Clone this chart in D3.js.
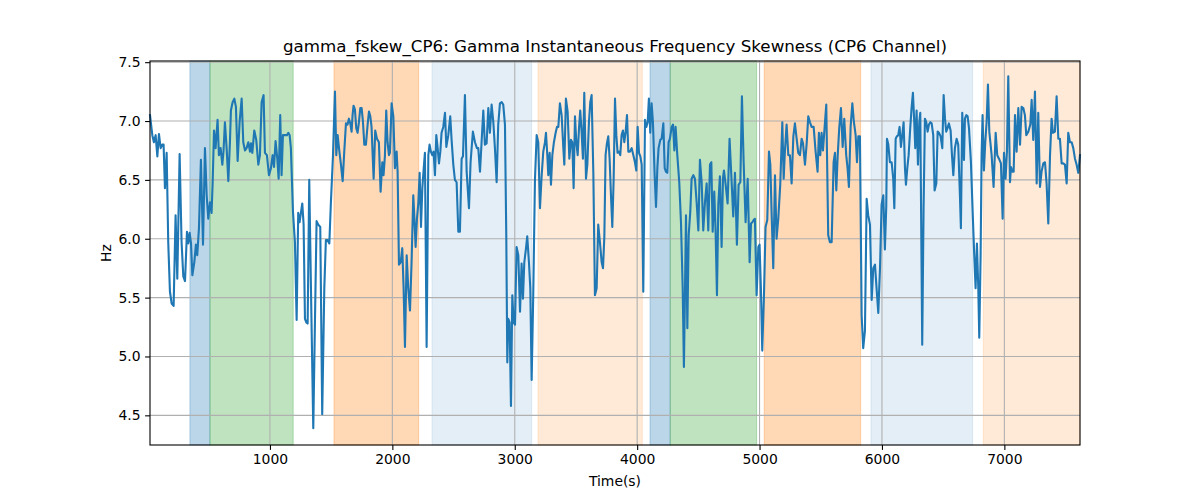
<!DOCTYPE html>
<html>
<head>
<meta charset="utf-8">
<script src="https://cdn.jsdelivr.net/npm/d3@7.9.0/dist/d3.min.js"></script>
<style>
  body { margin: 0; background: #fff; }
  svg { font-family: "DejaVu Sans", sans-serif; }
</style>
</head>
<body>
<svg id="chart" width="1200" height="500"></svg>
<script>
// gamma_fskew_CP6 samples: [time (s), skewness (Hz)]
const fskew = [
  [20,7.05],[39,6.88],[52,6.82],[66,6.88],[80,6.70],[93,6.89],[107,6.77],[120,6.80],[131,6.80],[142,6.43],
  [156,6.73],[169,5.97],[183,5.55],[197,5.45],[213,5.43],[229,6.20],[243,5.66],[262,6.72],[278,5.97],[292,5.68],
  [306,5.64],[322,6.06],[333,5.96],[344,6.05],[355,5.96],[366,5.69],[382,5.80],[395,5.95],[406,5.86],[420,6.09],
  [436,6.67],[453,5.95],[469,6.77],[483,6.37],[496,6.17],[510,6.31],[523,6.22],[532,6.48],[543,6.92],[556,6.77],
  [572,7.01],[583,6.71],[597,6.77],[611,6.63],[621,6.75],[632,6.99],[646,6.77],[660,6.49],[673,6.82],[681,7.09],
  [695,7.16],[709,7.19],[722,7.12],[736,6.66],[752,6.99],[769,7.19],[782,6.82],[796,6.75],[809,6.77],[823,6.82],
  [837,6.74],[845,6.81],[856,6.73],[872,6.92],[888,6.84],[905,6.63],[918,6.71],[932,7.16],[948,7.22],[959,6.73],
  [975,6.71],[992,6.54],
  [1008,6.60],[1022,6.71],[1033,6.61],[1046,6.83],[1060,6.68],[1071,6.51],[1084,7.05],[1095,6.54],[1106,6.88],[1122,6.88],
  [1139,6.88],[1150,6.90],[1161,6.88],[1171,6.77],[1188,6.23],[1204,5.97],[1218,5.31],[1231,6.22],[1242,6.14],[1253,6.22],
  [1264,6.30],[1275,6.12],[1286,5.32],[1297,5.29],[1308,5.28],[1321,6.50],[1335,5.58],[1354,4.39],[1368,5.32],[1381,6.15],
  [1395,6.12],[1411,6.10],[1427,4.51],[1444,5.58],[1457,5.99],[1471,5.99],[1485,5.96],[1498,6.31],[1515,6.71],[1531,7.25],
  [1542,6.71],[1553,6.88],[1564,6.77],[1580,6.63],[1594,6.49],[1607,6.74],[1621,6.98],[1634,6.97],[1645,7.02],[1656,6.98],
  [1667,6.91],[1675,7.05],[1683,7.13],[1694,7.10],[1705,6.94],[1716,6.90],[1727,6.99],[1738,7.11],[1749,7.11],[1760,6.99],
  [1771,6.80],[1784,6.80],[1798,6.97],[1809,7.08],[1820,7.04],[1830,6.95],[1847,6.51],[1860,6.92],[1874,6.85],[1890,6.82],
  [1904,6.40],[1918,6.65],[1928,6.54],[1939,6.70],[1950,7.09],[1961,6.82],[1972,6.71],
  [1980,6.73],[1994,7.15],[2008,7.04],[2021,6.60],[2035,6.74],[2043,6.57],[2054,5.78],[2068,5.80],[2081,5.92],[2092,5.58],
  [2103,5.08],[2117,5.86],[2130,5.58],[2144,5.39],[2157,5.80],[2171,6.37],[2179,6.20],[2190,5.93],[2201,6.17],[2212,6.30],
  [2223,6.56],[2234,6.10],[2245,6.43],[2255,6.58],[2266,6.73],[2280,5.08],[2294,6.71],[2304,6.80],[2315,6.74],[2326,6.71],
  [2337,6.74],[2348,6.54],[2359,6.88],[2370,6.77],[2381,6.64],[2392,6.74],[2402,6.90],[2416,6.95],[2430,7.07],[2441,6.78],
  [2457,6.88],[2473,7.04],[2484,6.84],[2498,6.63],[2511,6.50],[2525,6.48],[2539,6.06],[2552,6.06],[2566,6.68],[2577,6.70],
  [2593,7.22],[2607,6.57],[2626,6.26],[2639,6.65],[2658,6.91],[2675,6.82],[2691,6.77],[2702,6.77],[2716,6.57],[2729,6.82],
  [2743,7.09],[2756,6.80],[2770,6.81],[2784,7.11],[2797,6.90],[2811,7.14],[2825,6.99],[2838,6.77],[2852,6.48],[2865,6.97],
  [2879,7.15],[2893,7.16],[2906,7.14],[2920,6.97],
  [2931,6.00],[2939,4.95],[2947,5.32],[2958,5.29],[2969,4.58],[2980,5.52],[2991,5.29],[3002,5.27],[3015,5.93],[3029,5.86],
  [3043,5.38],[3056,5.79],[3067,5.49],[3078,5.80],[3092,5.92],[3102,6.02],[3116,5.80],[3127,5.58],[3138,4.80],[3151,5.52],
  [3165,6.50],[3179,6.88],[3192,6.82],[3206,6.26],[3220,6.54],[3233,6.74],[3247,6.82],[3255,6.90],[3266,6.71],[3274,6.54],
  [3285,6.73],[3296,6.46],[3307,6.71],[3320,6.82],[3334,6.90],[3345,6.95],[3356,6.95],[3369,7.15],[3383,7.05],[3397,6.77],
  [3405,6.63],[3418,7.19],[3432,7.08],[3446,6.68],[3459,6.84],[3470,6.82],[3481,6.43],[3492,7.04],[3503,6.82],[3514,6.71],
  [3525,6.94],[3535,7.09],[3546,6.91],[3557,6.68],[3568,7.24],[3582,6.51],[3593,6.63],[3606,6.99],[3617,7.16],[3628,7.22],
  [3642,6.56],[3655,5.52],[3669,5.58],[3682,6.12],[3696,5.97],[3710,5.80],[3721,5.75],[3732,6.02],[3742,6.71],[3753,6.81],
  [3764,6.87],[3775,6.68],[3786,6.37],[3797,6.10],[3808,6.51],[3819,7.19],[3830,6.88],[3840,6.73],[3851,6.74],[3862,6.71],
  [3873,6.88],[3884,6.92],[3895,6.82],[3906,6.91],[3917,7.05],[3928,6.74],
  [3941,6.74],[3955,6.77],[3969,6.71],[3982,6.65],[3993,6.58],[4004,6.95],[4015,6.73],[4026,6.70],[4037,6.63],[4050,5.55],
  [4064,7.01],[4075,6.95],[4086,6.99],[4096,7.19],[4107,6.90],[4118,7.15],[4129,6.99],[4143,6.54],[4154,6.27],[4165,6.60],
  [4175,6.77],[4189,6.84],[4200,6.85],[4214,6.98],[4225,6.60],[4235,6.57],[4246,6.56],[4257,6.82],[4268,6.85],[4282,6.95],
  [4293,6.97],[4304,6.75],[4314,6.95],[4328,6.71],[4344,6.48],[4358,6.14],[4372,5.58],[4382,4.91],[4391,5.58],[4399,6.20],
  [4410,5.24],[4421,6.03],[4434,6.23],[4445,6.51],[4459,6.54],[4472,6.51],[4486,6.31],[4500,6.07],[4513,6.67],[4527,6.48],
  [4540,6.07],[4554,6.31],[4568,6.47],[4581,6.07],[4595,6.63],[4606,6.65],[4617,6.06],[4630,6.40],[4641,6.06],[4652,5.52],
  [4663,6.29],[4676,6.53],[4690,5.93],[4701,6.51],[4709,6.58],[4723,6.46],[4739,6.30],[4755,6.85],[4772,6.48],[4785,6.19],
  [4799,6.56],[4815,5.95],[4829,6.46],[4843,6.48],[4856,7.21],[4870,6.65],[4886,6.14],[4903,6.51],
  [4919,5.80],[4930,6.13],[4941,6.14],[4952,6.16],[4962,6.17],[4976,5.52],[4990,5.93],[5000,5.95],[5011,5.58],[5022,5.05],
  [5036,5.52],[5049,6.10],[5063,6.16],[5077,6.74],[5088,6.63],[5099,6.20],[5112,5.75],[5126,6.54],[5139,6.00],[5153,6.17],
  [5169,6.46],[5186,6.99],[5197,6.51],[5207,6.74],[5221,6.97],[5235,6.71],[5248,6.71],[5262,6.47],[5276,6.87],[5289,6.98],
  [5303,6.85],[5316,6.73],[5330,6.71],[5344,6.85],[5355,6.81],[5371,6.63],[5385,6.81],[5398,7.04],[5412,6.99],[5425,6.95],
  [5442,6.95],[5458,6.74],[5474,6.57],[5485,6.90],[5496,6.71],[5507,6.90],[5518,6.75],[5529,6.91],[5545,7.14],[5561,6.03],
  [5575,5.97],[5589,5.97],[5605,6.65],[5616,6.73],[5627,6.41],[5638,6.70],[5651,6.94],[5665,7.11],[5679,6.78],[5692,7.02],
  [5708,6.71],[5719,6.60],[5730,6.44],[5744,6.95],[5758,7.15],[5771,6.99],[5785,6.88],[5796,6.65],[5807,6.87],[5820,6.87],
  [5834,5.35],[5847,5.07],[5861,5.22],[5875,6.34],[5888,6.20],
  [5902,6.12],[5916,5.48],[5929,5.75],[5943,5.78],[5956,5.58],[5970,5.37],[5984,5.75],[5997,6.29],[6011,6.37],[6024,5.91],
  [6035,6.27],[6041,6.85],[6052,6.80],[6065,6.65],[6079,6.65],[6092,6.51],[6101,6.26],[6112,6.85],[6122,6.87],[6133,6.88],
  [6144,6.95],[6155,6.78],[6166,6.88],[6177,6.99],[6188,6.60],[6196,6.46],[6207,6.60],[6218,6.71],[6231,6.94],[6242,7.11],
  [6253,7.24],[6264,6.99],[6272,6.77],[6283,7.09],[6294,6.63],[6305,6.99],[6313,7.07],[6329,5.10],[6340,6.26],[6351,7.02],
  [6362,6.99],[6373,6.91],[6384,6.97],[6395,6.99],[6406,6.98],[6419,6.88],[6430,6.41],[6444,6.47],[6455,6.91],[6466,6.90],
  [6479,6.87],[6493,6.77],[6504,7.22],[6515,7.02],[6525,6.91],[6536,6.94],[6547,6.98],[6561,6.92],[6572,6.71],[6583,6.54],
  [6596,6.77],[6610,6.85],[6623,6.80],[6637,6.37],[6645,6.09],[6656,7.07],[6670,6.67],[6678,7.02],[6689,7.05],[6700,7.04],
  [6711,6.94],[6727,6.65],[6741,6.23],[6754,5.86],[6765,5.58],[6776,5.96],[6787,5.58],[6795,5.16],[6806,5.86],[6814,6.71],
  [6822,7.05],[6833,6.58],[6844,6.82],[6855,6.99],[6866,7.31],[6877,6.91],
  [6896,6.71],[6912,6.44],[6929,6.90],[6942,6.71],[6956,6.68],[6972,6.64],[6986,6.17],[6997,6.73],[7010,6.51],[7021,6.74],
  [7032,7.38],[7046,6.48],[7054,6.61],[7065,6.57],[7076,6.57],[7087,7.05],[7100,6.74],[7114,7.11],[7128,6.80],[7141,7.12],
  [7155,7.11],[7168,7.05],[7179,6.88],[7196,6.91],[7212,6.97],[7223,7.18],[7236,6.84],[7250,7.25],[7264,6.47],[7277,7.07],
  [7291,6.44],[7304,6.57],[7318,6.64],[7332,6.65],[7345,6.47],[7359,6.13],[7373,6.71],[7386,7.02],[7397,6.90],[7413,6.91],
  [7427,7.21],[7441,6.85],[7454,6.85],[7468,6.64],[7481,6.64],[7495,6.63],[7509,6.47],[7522,6.90],[7536,6.82],[7550,6.82],
  [7563,6.77],[7577,6.68],[7590,6.63],[7604,6.56],[7618,6.71]
];

// shaded intervals (s)
const spanStart = [346, 510, 1523, 2324, 3190, 4105, 4270, 5038, 5910, 6828];
const spanEnd   = [510, 1190, 2215, 3138, 4042, 4270, 4976, 5826, 6741, 7618];
const spanKind  = ["blue", "green", "orange", "paleBlue", "paleOrange",
                   "blue", "green", "orange", "paleBlue", "paleOrange"];

const xTicks = [1000, 2000, 3000, 4000, 5000, 6000, 7000];
const yTicks = [4.5, 5.0, 5.5, 6.0, 6.5, 7.0, 7.5];

const kindStyle = {
  blue:       { color: "#1f77b4", alpha: 0.3 },
  green:      { color: "#2ca02c", alpha: 0.3 },
  orange:     { color: "#ff7f0e", alpha: 0.3 },
  paleBlue:   { color: "#1f77b4", alpha: 0.12 },
  paleOrange: { color: "#ff7f0e", alpha: 0.16 }
};

const margin = { left: 150, right: 120, top: 61, bottom: 55 };
const W = 1200, H = 500;
const pw = W - margin.left - margin.right;
const ph = H - margin.top - margin.bottom;

const svg = d3.select("#chart");
const g = svg.append("g").attr("transform", `translate(${margin.left},${margin.top})`);

const x = d3.scaleLinear().domain([fskew[0][0], fskew[fskew.length - 1][0]]).range([0, pw]);
const y = d3.scaleLinear().domain([4.248, 7.51]).range([ph, 0]);

// spans
const spans = spanStart.map((s, i) => ({ s, e: spanEnd[i], k: spanKind[i] }));
g.selectAll("rect.span")
  .data(spans)
  .enter()
  .append("rect")
  .attr("class", "span")
  .attr("x", d => x(d.s))
  .attr("y", 0)
  .attr("width", d => x(d.e) - x(d.s))
  .attr("height", ph)
  .attr("fill", d => kindStyle[d.k].color)
  .attr("fill-opacity", d => kindStyle[d.k].alpha)
  .attr("stroke", d => kindStyle[d.k].color)
  .attr("stroke-opacity", d => kindStyle[d.k].alpha)
  .attr("stroke-width", 1);

// grid
g.selectAll("line.gx")
  .data(xTicks)
  .enter()
  .append("line")
  .attr("x1", d => x(d)).attr("x2", d => x(d))
  .attr("y1", 0).attr("y2", ph)
  .attr("stroke", "#b0b0b0").attr("stroke-width", 1.1);
g.selectAll("line.gy")
  .data(yTicks)
  .enter()
  .append("line")
  .attr("x1", 0).attr("x2", pw)
  .attr("y1", d => y(d)).attr("y2", d => y(d))
  .attr("stroke", "#b0b0b0").attr("stroke-width", 1.1);

// series
const line = d3.line().x(d => x(d[0])).y(d => y(d[1]));
g.append("path")
  .datum(fskew)
  .attr("d", line)
  .attr("fill", "none")
  .attr("stroke", "#1f77b4")
  .attr("stroke-width", 2.1)
  .attr("stroke-linejoin", "round")
  .attr("stroke-linecap", "square");

// axes
const xAxis = g.append("g")
  .attr("transform", `translate(0,${ph})`)
  .call(d3.axisBottom(x).tickValues(xTicks).tickFormat(d3.format("d")).tickSize(4.9).tickPadding(4.5));
const yAxis = g.append("g")
  .call(d3.axisLeft(y).tickValues(yTicks).tickFormat(d3.format(".1f")).tickSize(4.9).tickPadding(4.5));
[xAxis, yAxis].forEach(a => {
  a.select(".domain").remove();
  a.selectAll(".tick line").attr("stroke", "#000").attr("stroke-width", 1.1);
  a.selectAll(".tick text").attr("fill", "#000").style("font-size", "13.9px").style("font-family", "DejaVu Sans");
});

// frame
g.append("rect")
  .attr("x", 0).attr("y", 0).attr("width", pw).attr("height", ph)
  .attr("fill", "none").attr("stroke", "#000").attr("stroke-width", 1.1);

// labels
svg.append("text")
  .attr("x", margin.left + pw / 2).attr("y", 52)
  .attr("text-anchor", "middle")
  .style("font-size", "16.7px")
  .text("gamma_fskew_CP6: Gamma Instantaneous Frequency Skewness (CP6 Channel)");
svg.append("text")
  .attr("x", margin.left + pw / 2).attr("y", 486)
  .attr("text-anchor", "middle")
  .style("font-size", "13.9px")
  .text("Time(s)");
svg.append("text")
  .attr("transform", `translate(111,${margin.top + ph / 2}) rotate(-90)`)
  .attr("text-anchor", "middle")
  .style("font-size", "13.9px")
  .text("Hz");
</script>
</body>
</html>
